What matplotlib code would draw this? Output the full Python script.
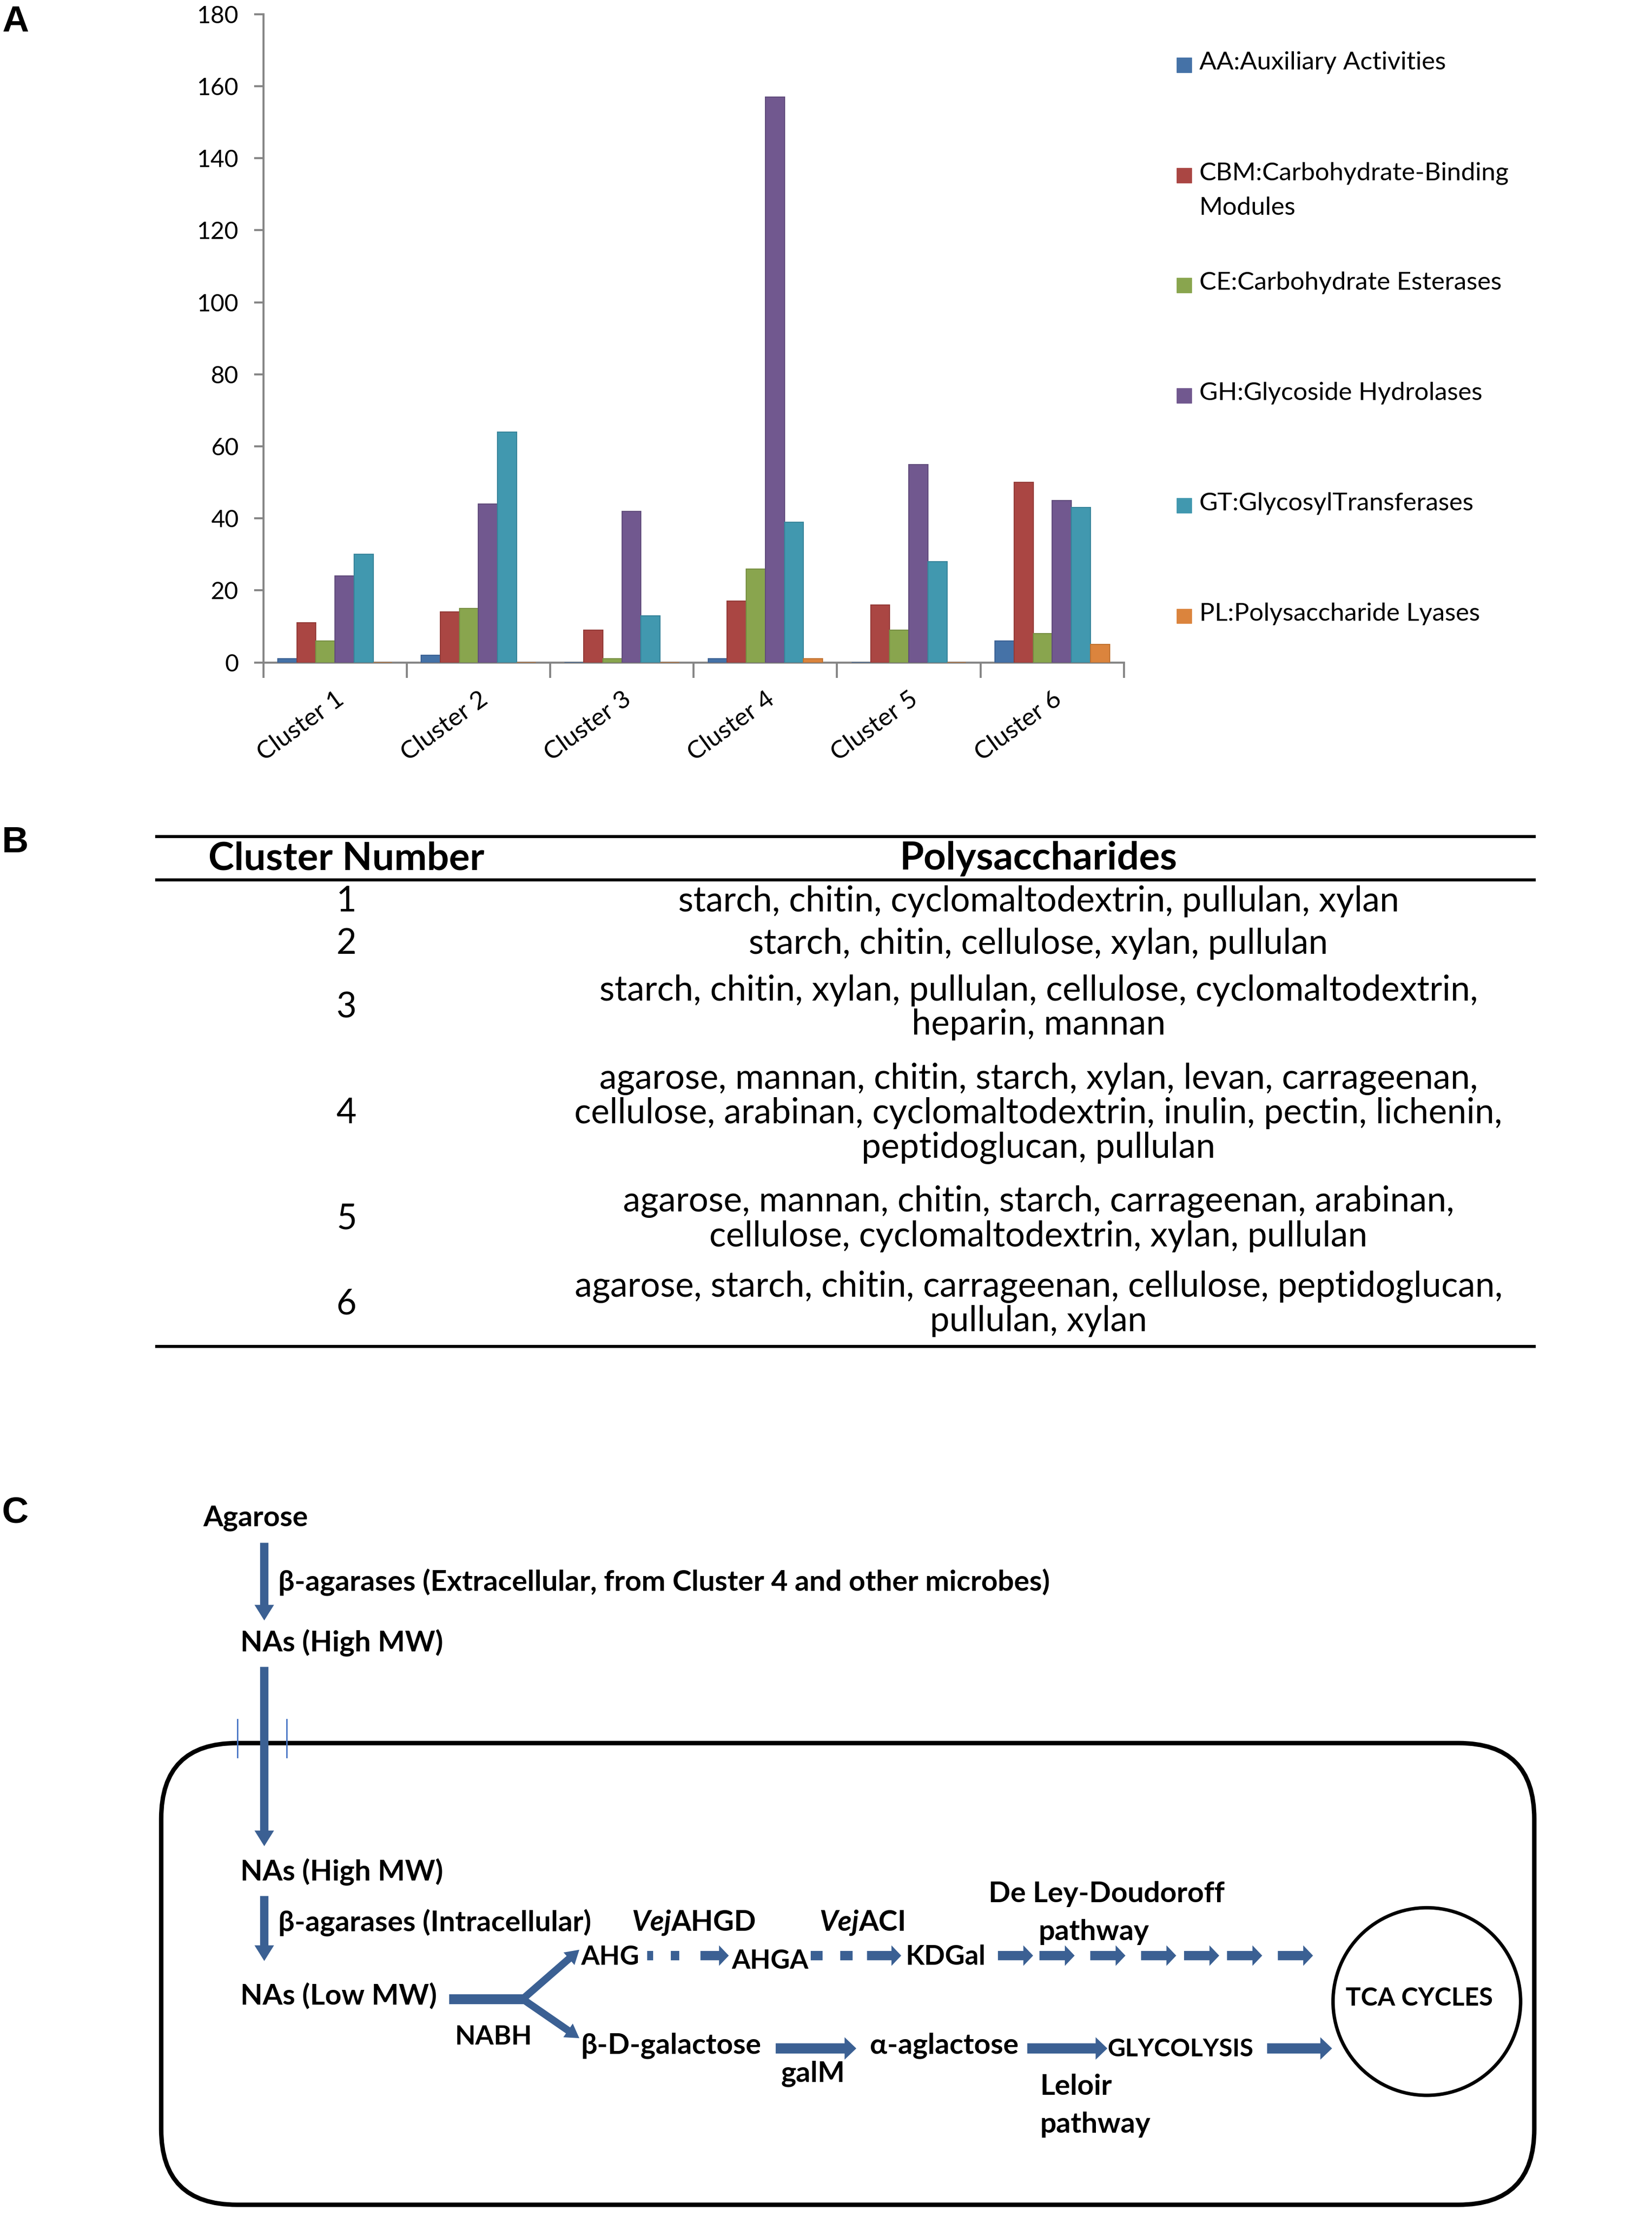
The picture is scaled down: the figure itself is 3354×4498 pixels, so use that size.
import matplotlib
matplotlib.use('Agg')
import matplotlib.pyplot as plt
from matplotlib.patches import FancyBboxPatch, FancyArrow, Rectangle, Circle
import matplotlib.transforms as mtransforms
import numpy as np

plt.rcParams['font.family'] = ['Lato', 'DejaVu Sans']

# ---- panel A data (CAZy family counts per cluster)
clusters = ['Cluster 1', 'Cluster 2', 'Cluster 3', 'Cluster 4', 'Cluster 5', 'Cluster 6']
families = ['AA:Auxiliary Activities', 'CBM:Carbohydrate-Binding\nModules',
            'CE:Carbohydrate Esterases', 'GH:Glycoside Hydrolases',
            'GT:GlycosylTransferases', 'PL:Polysaccharide Lyases']
aa = [1, 2, 0, 1, 0, 6]
cbm = [11, 14, 9, 17, 16, 50]
ce = [6, 15, 1, 26, 9, 8]
gh = [24, 44, 42, 157, 55, 45]
gt = [30, 64, 13, 39, 28, 43]
pl = [0, 0, 0, 1, 0, 5]
colors = ['#4572A7', '#AA4643', '#89A54E', '#71588F', '#4198AF', '#DB843D']
edges = ['#3A6093', '#933A37', '#768E42', '#604B7B', '#37849A', '#C0712F']
yticks = [0, 20, 40, 60, 80, 100, 120, 140, 160, 180]

# ---- panel B data
table_header = ['Cluster Number', 'Polysaccharides']
table_numbers = ['1', '2', '3', '4', '5', '6']
table_polys = [
    'starch, chitin, cyclomaltodextrin, pullulan, xylan',
    'starch, chitin, cellulose, xylan, pullulan',
    'starch, chitin, xylan, pullulan, cellulose, cyclomaltodextrin,\nheparin, mannan',
    'agarose, mannan, chitin, starch, xylan, levan, carrageenan,\ncellulose, arabinan, cyclomaltodextrin, inulin, pectin, lichenin,\npeptidoglucan, pullulan',
    'agarose, mannan, chitin, starch, carrageenan, arabinan,\ncellulose, cyclomaltodextrin, xylan, pullulan',
    'agarose, starch, chitin, carrageenan, cellulose, peptidoglucan,\npullulan, xylan',
]

W, H = 3355, 4498
# layout units used below for placing things (slightly larger than pixels)
U, V = 3383, 4536

fig = plt.figure(figsize=(W / 100, H / 100), dpi=100)
fig.patch.set_facecolor('white')

# overlay axes for the legend, the table and the pathway diagram
ov = fig.add_axes([0, 0, 1, 1])
ov.set_xlim(0, U)
ov.set_ylim(V, 0)
ov.axis('off')

# ---------------- panel A: grouped bars
ax = fig.add_axes([539 / U, 1 - 1356 / V, 1762 / U, 1327 / V])
series = [aa, cbm, ce, gh, gt, pl]
x = np.arange(len(clusters))
bw = 0.133
for j, vals in enumerate(series):
    ax.bar(x + (j - 2.5) * bw, vals, width=bw, color=colors[j],
           edgecolor=edges[j], linewidth=1.5, zorder=3)
ax.set_xlim(-0.5, 5.5)
ax.set_ylim(0, 180)
ax.set_yticks(yticks)
ax.tick_params(axis='y', labelsize=35, length=14, width=3, color='#868686', pad=22)
ax.set_xticks(np.arange(-0.5, 6.0, 1.0))
ax.tick_params(axis='x', which='major', labelbottom=False, length=22, width=3, color='#868686')
ax.set_xticks(x, clusters, minor=True)
ax.tick_params(axis='x', which='minor', length=0, labelsize=37, pad=34)
for lab in ax.get_xticklabels(minor=True):
    lab.set_rotation(36)
    lab.set_ha('right')
    lab.set_va('top')
    lab.set_rotation_mode('anchor')
    lab.set_transform(lab.get_transform() + mtransforms.Affine2D().translate(0, -4))
for s in ['top', 'right']:
    ax.spines[s].set_visible(False)
for s in ['left', 'bottom']:
    ax.spines[s].set_color('#868686')
    ax.spines[s].set_linewidth(3)
ax.set_facecolor('none')

# legend drawn as patches + text
leg_y = [133, 359, 584, 810, 1035, 1261]
for j, lab in enumerate(families):
    ov.add_patch(Rectangle((2409, leg_y[j] - 15), 30, 30, color=colors[j]))
    ov.text(2455, leg_y[j] - 28, lab, fontsize=37, va='top', ha='left', linespacing=1.65)

# panel letters
for letter, ly in [('A', 10), ('B', 1690), ('C', 3062)]:
    ov.text(4, ly, letter, fontsize=54, fontweight='bold', family='Liberation Sans',
            va='top', ha='left')

# ---------------- panel B: table
for yy in [1712, 1801, 2756]:
    ov.plot([318, 3144], [yy, yy], color='black', lw=4.5, solid_capstyle='butt')
ov.text(709, 1758, table_header[0], fontsize=57, fontweight='bold', ha='center', va='center')
ov.text(2126, 1758, table_header[1], fontsize=57, fontweight='bold', ha='center', va='center')
row_y = [1845, 1932, 2062, 2279, 2495, 2669]
for i in range(6):
    ov.text(709, row_y[i], table_numbers[i], fontsize=51, ha='center', va='center')
    ov.text(2126, row_y[i], table_polys[i], fontsize=51, ha='center', va='center',
            linespacing=1.08)

# ---------------- panel C: pathway diagram
blue = '#3B6093'


def arrow(x0, y0, x1, y1, w=17, hw=40, hl=32):
    ov.add_patch(FancyArrow(x0, y0, x1 - x0, y1 - y0, width=w, head_width=hw,
                            head_length=hl, length_includes_head=True,
                            color=blue, lw=0))


def bar(x0, x1, y, w):
    ov.add_patch(Rectangle((x0, y - w / 2), x1 - x0, w, color=blue, lw=0))


cell = FancyBboxPatch((330, 3568), 2811, 945, boxstyle='round,pad=0,rounding_size=155',
                      fill=False, ec='black', lw=6.5)
ov.add_patch(cell)
ov.add_patch(Circle((2921, 4097), 192, fill=False, ec='black', lw=5))

arrow(541, 3158, 541, 3317)
arrow(541, 3412, 541, 3779)
arrow(541, 3881, 541, 4014)
for mx in [486, 587]:
    ov.plot([mx, mx], [3519, 3597], color='#4472C4', lw=2)

bar(920, 1078, 4092, 20)
arrow(1070, 4092, 1186, 3991, w=15, hw=34, hl=28)
arrow(1070, 4092, 1186, 4172, w=15, hw=34, hl=28)

ytop = 4003
for x0, x1 in [(1325, 1337), (1373, 1391), (1660, 1684), (1720, 1745)]:
    bar(x0, x1, ytop, 19)
arrow(1434, ytop, 1492, ytop, w=19, hw=42, hl=20)
arrow(1775, ytop, 1845, ytop, w=19, hw=42, hl=20)
for x0 in [2043, 2128, 2232, 2336, 2424, 2512, 2616]:
    arrow(x0, ytop, x0 + 72, ytop, w=19, hw=42, hl=20)

ybot = 4193
arrow(1588, ybot, 1753, ybot, w=21, hw=46, hl=24)
arrow(2103, ybot, 2267, ybot, w=21, hw=46, hl=24)
arrow(2594, ybot, 2727, ybot, w=21, hw=46, hl=24)

fs = 42
labels_c = [
    ('Agarose', 416, 3108, fs),
    ('β-agarases (Extracellular, from Cluster 4 and other microbes)', 570, 3238, fs),
    ('NAs (High MW)', 492, 3362, fs),
    ('NAs (High MW)', 492, 3831, fs),
    ('β-agarases (Intracellular)', 570, 3935, fs),
    ('De Ley-Doudoroff', 2024, 3877, fs),
    ('pathway', 2126, 3955, fs),
    ('AHG', 1189, 4006, 39),
    ('AHGA', 1498, 4014, 39),
    ('KDGal', 1854, 4006, 40),
    ('NAs (Low MW)', 492, 4086, fs),
    ('NABH', 931, 4169, 39),
    ('β-D-galactose', 1189, 4187, fs),
    ('galM', 1599, 4245, fs),
    ('α-aglactose', 1781, 4187, fs),
    ('GLYCOLYSIS', 2267, 4195, 36),
    ('Leloir', 2129, 4271, fs),
    ('pathway', 2129, 4349, fs),
]
for txt, tx, ty, size in labels_c:
    ov.text(tx, ty, txt, fontsize=size, fontweight='bold', ha='left', va='center')
ov.text(2906, 4091, 'TCA CYCLES', fontsize=37, fontweight='bold', ha='center', va='center')

renderer = fig.canvas.get_renderer()
for tx, rest in [(1293, 'AHGD'), (1677, 'ACI')]:
    t = ov.text(tx, 3935, 'Vej', fontsize=fs, fontweight='bold', style='italic',
                ha='left', va='center')
    bb = t.get_window_extent(renderer)
    xr = ov.transData.inverted().transform((bb.x1, bb.y0))[0]
    ov.text(xr, 3935, rest, fontsize=fs, fontweight='bold', ha='left', va='center')

fig.savefig('out.png', dpi=100)
